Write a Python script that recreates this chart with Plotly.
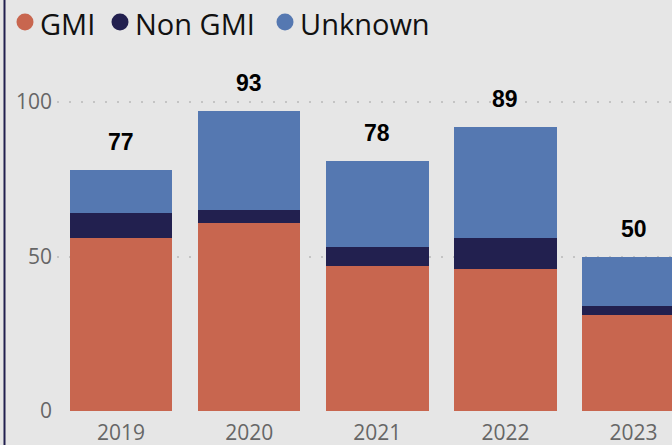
import plotly.graph_objects as go

years = ["2019", "2020", "2021", "2022", "2023"]
gmi = [56, 61, 47, 46, 31]
non_gmi = [8, 4, 6, 10, 3]
unknown = [14, 32, 28, 36, 16]
total_labels = [77, 93, 78, 89, 50]
series_names = ["GMI", "Non GMI", "Unknown"]

colors = {"GMI": "#C8664F", "Non GMI": "#22204F", "Unknown": "#5578B1"}
font_family = "Open Sans, Noto Sans, sans-serif"
label_family = "Liberation Sans, Arial, sans-serif"

W, H = 672, 445
MB = 34
PH = H - MB  # paper height in px


def px_x(p):
    return p / W


def px_y(p):
    return (PH - p) / PH


fig = go.Figure()
for name, vals in zip(series_names, [gmi, non_gmi, unknown]):
    fig.add_trace(go.Bar(
        x=years, y=vals, name=name,
        marker=dict(color=colors[name], line=dict(width=0)),
        showlegend=False, width=0.8,
    ))

stack_tops = [g + n + u for g, n, u in zip(gmi, non_gmi, unknown)]
for i, (top, lab) in enumerate(zip(stack_tops, total_labels)):
    fig.add_annotation(
        x=i, y=top, xref="x", yref="y", text=f"<b>{lab}</b>", showarrow=False,
        yanchor="bottom", yshift=13,
        font=dict(family=label_family, size=23, color="#000000"),
    )

# legend (circle + text)
legend_circle_x = [25, 120, 285]
legend_text_x = [38, 133, 298]
for name, cx, tx in zip(series_names, legend_circle_x, legend_text_x):
    fig.add_shape(
        type="circle", xref="paper", yref="paper",
        xsizemode="pixel", ysizemode="pixel",
        xanchor=px_x(cx), yanchor=px_y(22),
        x0=-8.5, x1=8.5, y0=-8.5, y1=8.5,
        fillcolor=colors[name], line=dict(width=0),
    )
    fig.add_annotation(
        x=px_x(tx), y=px_y(23), xref="paper", yref="paper",
        xanchor="left", yanchor="middle", text=name, showarrow=False,
        font=dict(family=font_family, size=29, color="#111111"),
    )

# left frame line
fig.add_shape(
    type="line", xref="paper", yref="paper",
    x0=px_x(4.5), x1=px_x(4.5), y0=-0.2, y1=1.2,
    line=dict(color="#22204F", width=2),
)

fig.update_layout(
    width=W, height=H,
    paper_bgcolor="#E6E6E6", plot_bgcolor="#E6E6E6",
    barmode="stack", bargap=0.2,
    margin=dict(l=0, r=0, t=0, b=MB, pad=0, autoexpand=False),
    font=dict(family=font_family, color="#666666"),
    showlegend=False,
    xaxis=dict(
        domain=[57 / W, 1],
        type="category", range=[-0.5, 4.3], showgrid=False, zeroline=False,
        showline=False, ticks="", automargin=False, ticklabelstandoff=7,
        tickfont=dict(size=21, color="#666666"),
    ),
    yaxis=dict(
        domain=[0, (PH - 70) / PH], range=[0, 110.4], tickvals=[0, 50, 100],
        showgrid=True, gridcolor="#C4C4C4", griddash="2px,10px", gridwidth=2,
        zeroline=False, showline=False, ticks="", ticklabelstandoff=4,
        automargin=False, tickfont=dict(size=21, color="#666666"),
    ),
)

fig.write_html(
    "out.html",
    config={"displayModeBar": False},
    post_script="document.body.style.margin='0';document.body.style.overflow='hidden';document.body.style.background='#E6E6E6';",
)
